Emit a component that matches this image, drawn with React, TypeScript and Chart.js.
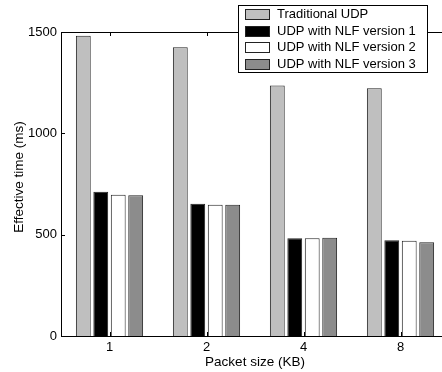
import React, { useEffect, useRef } from "react";
import { Chart, registerables } from "chart.js";

Chart.register(...registerables);

const categories = ["1", "2", "4", "8"];
const seriesNames = [
  "Traditional UDP",
  "UDP with NLF version 1",
  "UDP with NLF version 2",
  "UDP with NLF version 3",
];
const traditionalUDP = [1482, 1425, 1236, 1222];
const nlfVersion1 = [712, 653, 482, 472];
const nlfVersion2 = [697, 648, 482, 470];
const nlfVersion3 = [694, 647, 485, 462];
const yTicks = [0, 500, 1000, 1500];
const xTitle = "Packet size (KB)";
const yTitle = "Effective time (ms)";

const fills = ["#bfbfbf", "#000000", "#ffffff", "#8c8c8c"];
const FONT = "'Liberation Sans', Arial, Helvetica, sans-serif";

const framePlugin = {
  id: "frame",
  afterDraw(chart: any) {
    const ctx = chart.ctx;
    const { left, right, top, bottom } = chart.chartArea;
    const xs = chart.scales.x;
    const ys = chart.scales.y;
    ctx.save();
    ctx.strokeStyle = "#000";
    ctx.lineWidth = 1;
    ctx.beginPath();
    ctx.moveTo(left + 0.5, bottom + 0.5);
    ctx.lineTo(left + 0.5, top + 0.5);
    ctx.lineTo(right + 0.5, top + 0.5);
    ctx.moveTo(left + 0.5, bottom + 0.5);
    ctx.lineTo(right + 0.5, bottom + 0.5);
    const tl = 4;
    for (let i = 0; i < categories.length; i++) {
      const x = Math.round(xs.getPixelForValue(i)) + 0.5;
      ctx.moveTo(x, bottom);
      ctx.lineTo(x, bottom - tl);
      ctx.moveTo(x, top);
      ctx.lineTo(x, top + tl);
    }
    for (const v of yTicks) {
      const y = Math.round(ys.getPixelForValue(v)) + 0.5;
      ctx.moveTo(left, y);
      ctx.lineTo(left + tl, y);
    }
    ctx.stroke();

    // y title
    ctx.fillStyle = "#000";
    ctx.font = `13.5px ${FONT}`;
    ctx.textAlign = "center";
    ctx.textBaseline = "middle";
    ctx.save();
    ctx.translate(19, 177);
    ctx.rotate(-Math.PI / 2);
    ctx.fillText(yTitle, 0, 0);
    ctx.restore();

    // legend
    const bx = 238.5, by = 5.5, bw = 189, bh = 67;
    ctx.fillStyle = "#fff";
    ctx.fillRect(bx, by, bw, bh);
    ctx.strokeRect(bx, by, bw, bh);
    const rows = [14, 30.5, 47, 63.5];
    ctx.font = `13px ${FONT}`;
    ctx.textAlign = "left";
    ctx.textBaseline = "middle";
    for (let i = 0; i < seriesNames.length; i++) {
      const ry = rows[i];
      ctx.fillStyle = fills[i];
      ctx.fillRect(245.5, Math.round(ry - 5) + 0.5, 24, 10);
      ctx.strokeStyle = "#222";
      ctx.strokeRect(245.5, Math.round(ry - 5) + 0.5, 24, 10);
      ctx.fillStyle = "#000";
      ctx.fillText(seriesNames[i], 277, ry + 0.5);
    }
    ctx.restore();
  },
};

export default function App() {
  const ref = useRef<HTMLCanvasElement | null>(null);
  useEffect(() => {
    document.body.style.margin = "0";
    const canvas = ref.current!;
    const data = [traditionalUDP, nlfVersion1, nlfVersion2, nlfVersion3];
    const chart = new Chart(canvas, {
      type: "bar",
      data: {
        labels: categories,
        datasets: data.map((d, i) => ({
          label: seriesNames[i],
          data: d,
          backgroundColor: fills[i],
          borderColor: "#222",
          borderWidth: 1,
          categoryPercentage: 0.72,
          barPercentage: 0.85,
        })),
      },
      options: {
        responsive: false,
        animation: false,
        devicePixelRatio: 1,
        layout: { padding: { top: 32, right: 1, left: 0, bottom: 0 } },
        plugins: { legend: { display: false }, tooltip: { enabled: false } },
        scales: {
          x: {
            grid: { display: false, drawTicks: false },
            border: { display: false },
            ticks: { color: "#000", font: { family: FONT, size: 13 }, padding: 4, maxRotation: 0 },
            title: {
              display: true,
              text: xTitle,
              color: "#000",
              font: { family: FONT, size: 13.5 },
              padding: { top: 0, bottom: 2 },
            },
            afterFit: (s: any) => {
              s.height = 36;
            },
          },
          y: {
            min: 0,
            max: 1500,
            grid: { display: false, drawTicks: false },
            border: { display: false },
            afterBuildTicks: (s: any) => {
              s.ticks = yTicks.map((v) => ({ value: v }));
            },
            ticks: {
              color: "#000",
              font: { family: FONT, size: 13 },
              padding: 4,
              callback: (v: any) => String(v),
            },
            afterFit: (s: any) => {
              s.width = 61;
            },
          },
        },
      },
      plugins: [framePlugin],
    });
    return () => chart.destroy();
  }, []);
  return (
    <div style={{ width: 442, height: 372, overflow: "hidden", background: "#fff" }}>
      <canvas ref={ref} width={450} height={372} style={{ display: "block" }} />
    </div>
  );
}
